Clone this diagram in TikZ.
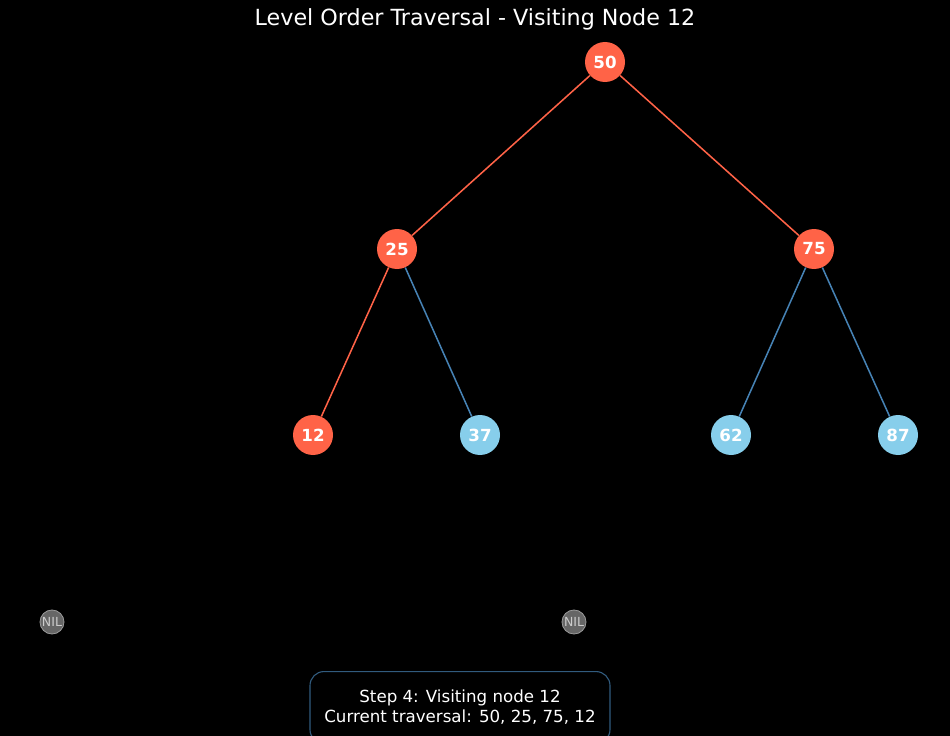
\documentclass[tikz,border=0pt]{standalone}
\usepackage{fontspec}
\setmainfont{DejaVu Sans}
\definecolor{visited}{HTML}{FF6347}
\definecolor{pending}{HTML}{87CEEB}
\definecolor{link}{HTML}{4682B4}
\definecolor{nilgray}{HTML}{666666}
\tikzset{
  visitednode/.style={circle, fill=visited, minimum size=40*0.72pt, inner sep=0pt, text=white, font=\fontsize{12}{14}\selectfont\bfseries},
  pendingnode/.style={circle, fill=pending, minimum size=40*0.72pt, inner sep=0pt, text=white, font=\fontsize{12}{14}\selectfont\bfseries},
  nilnode/.style={circle, fill=nilgray, draw=gray!80, line width=0.6pt, minimum size=24*0.72pt, inner sep=0pt, text=black!20, font=\fontsize{9}{10}\selectfont},
  hotedge/.style={visited, line width=1.1pt},
  coldedge/.style={link, line width=1.1pt}
}
\begin{document}
\begin{tikzpicture}[x=0.72pt, y=-0.72pt]
			%%%%% START %%%%%
			
			\fill[black] (0, 0) rectangle (950, 736);
			\useasboundingbox (0, 0) rectangle (950, 736);
			\clip (0, 0) rectangle (950, 736);
			
			\node[text=white, font=\fontsize{16}{18}\selectfont] (title) at (475, 19) {Level Order Traversal - Visiting Node 12};
			
			\node[visitednode] (n50) at (605, 62) {50};
			\node[visitednode] (n25) at (397, 249) {25};
			\node[visitednode] (n75) at (814, 249) {75};
			\node[visitednode] (n12) at (313, 435) {12};
			\node[pendingnode] (n37) at (480, 435) {37};
			\node[pendingnode] (n62) at (731, 435) {62};
			\node[pendingnode] (n87) at (898, 435) {87};
			
			\draw[hotedge] (n50) -- (n25);
			\draw[hotedge] (n50) -- (n75);
			\draw[hotedge] (n25) -- (n12);
			\draw[coldedge] (n25) -- (n37);
			\draw[coldedge] (n75) -- (n62);
			\draw[coldedge] (n75) -- (n87);
			
			\node[nilnode] (nilA) at (52, 622) {NIL};
			\node[nilnode] (nilB) at (574, 622) {NIL};
			
			\node[draw=link!70!black, line width=0.8pt, rounded corners=14*0.72pt, fill=black, text=white,
			  minimum width=300*0.72pt, minimum height=72*0.72pt, align=center, anchor=north,
			  font=\fontsize{12}{14.5}\selectfont] (status) at (460, 671)
			  {Step 4: Visiting node 12\\Current traversal: 50, 25, 75, 12};
			
			%%%%% END %%%%%
		\end{tikzpicture}
\end{document}
